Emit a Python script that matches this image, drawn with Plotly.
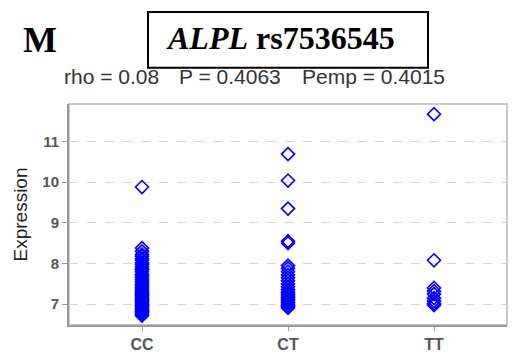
import plotly.graph_objects as go

categories = ["CC", "CT", "TT"]

cc_values = [9.88, 8.38, 8.30, 8.22, 8.18, 8.12, 8.08, 8.02, 7.98, 7.93, 7.88, 7.85, 7.80,
             7.74, 7.70, 7.65, 7.60, 7.55, 7.50, 7.46, 7.42, 7.38, 7.34, 7.30, 7.27,
             7.24, 7.21, 7.18, 7.15, 7.12, 7.09, 7.06, 7.03, 7.00, 6.97, 6.94, 6.91,
             6.88, 6.85, 6.82, 6.79, 6.76, 6.72]
ct_values = [10.69, 10.04, 9.35, 8.55, 8.50, 7.95, 7.88, 7.80, 7.72, 7.65, 7.58, 7.50,
             7.43, 7.36, 7.30, 7.25, 7.20, 7.16, 7.12, 7.08, 7.04, 7.00, 6.97, 6.94, 6.91]
tt_values = [11.67, 8.08, 7.40, 7.32, 7.25, 7.15, 7.08, 7.02, 6.98]

series = [cc_values, ct_values, tt_values]

# plot area in pixels (for placing paper-referenced decorations)
L, R, T, B = 69, 507, 104, 330
PW, PH = R - L, B - T


def px(x):
    return (x - L) / PW


def py(y):
    return (B - y) / PH


fig = go.Figure()
for cat, vals in zip(categories, series):
    fig.add_trace(go.Scatter(
        x=[cat] * len(vals), y=vals, mode="markers",
        marker=dict(symbol="diamond-open", size=10, color="#0000ff",
                    line=dict(width=1.6, color="#0000ff")),
        showlegend=False, hoverinfo="y"))

fig.update_layout(
    width=514, height=360,
    margin=dict(l=L, r=514 - R, t=T, b=360 - B),
    paper_bgcolor="white", plot_bgcolor="white",
    font=dict(family="Arial, Liberation Sans, sans-serif", color="#444"),
    xaxis=dict(range=[-0.5, 2.5], type="category", showgrid=False,
               showline=True, linecolor="#999", linewidth=2, mirror=False,
               ticks="outside", ticklen=4, tickcolor="#999",
               tickfont=dict(size=16, color="#555", weight="bold"), zeroline=False),
    yaxis=dict(range=[6.49, 11.92], tickvals=[7, 8, 9, 10, 11],
               showgrid=True, gridcolor="#d4d4d4", griddash="dash", gridwidth=1,
               showline=True, linecolor="#999", linewidth=2, mirror=False,
               ticks="outside", ticklen=5, tickcolor="#999",
               tickfont=dict(size=15, color="#555", weight="bold"), zeroline=False,
               title=dict(text="Expression", font=dict(size=19, color="#222"), standoff=10)),
)

# light frame on top/right
fig.add_shape(type="rect", xref="paper", yref="paper", x0=0, x1=1, y0=0, y1=1,
              line=dict(color="#c8c8c8", width=2), layer="below")

fig.add_annotation(text="<b>M</b>", xref="paper", yref="paper", x=px(40),
                   y=py(39), showarrow=False, xanchor="center", yanchor="middle",
                   font=dict(family="Liberation Serif, Times New Roman, serif", size=36, color="#000"))
fig.add_shape(type="rect", xref="paper", yref="paper",
              x0=px(148), x1=px(428), y0=py(67), y1=py(10),
              line=dict(color="#000", width=2), fillcolor="white")
fig.add_annotation(text="<b><i>ALPL</i> rs7536545</b>", xref="paper", yref="paper",
                   x=px(280), y=py(36), showarrow=False,
                   xanchor="center", yanchor="middle",
                   font=dict(family="Liberation Serif, Times New Roman, serif", size=32, color="#000"))

stat_texts = ["rho = 0.08", "P = 0.4063", "Pemp = 0.4015"]
stat_x = [62, 177, 300]
for t, x in zip(stat_texts, stat_x):
    fig.add_annotation(text=t, xref="paper", yref="paper", x=px(x), y=py(76),
                       showarrow=False, xanchor="left", yanchor="middle",
                       font=dict(family="Arial, Liberation Sans, sans-serif", size=21, color="#333"))

fig.write_html("out.html")
